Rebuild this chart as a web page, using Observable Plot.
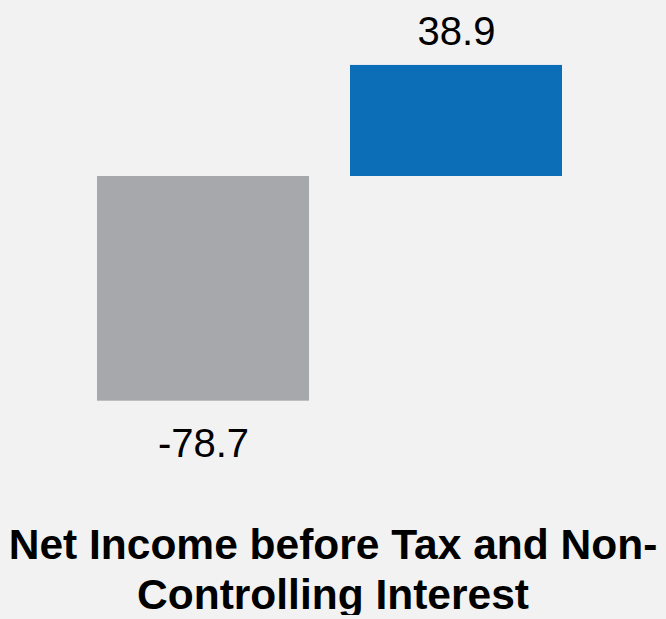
<!DOCTYPE html>
<html>
<head>
<meta charset="utf-8">
<script src="https://cdn.jsdelivr.net/npm/d3@7"></script>
<script src="https://cdn.jsdelivr.net/npm/@observablehq/plot@0.6"></script>
<style>
  html, body { margin: 0; padding: 0; background: #f2f2f2; overflow: hidden; }
  #chart svg { display: block; }
  .title {
    width: 666px;
    text-align: center;
    font-family: "Liberation Sans", Arial, sans-serif;
    font-weight: bold;
    font-size: 42.5px;
    color: #000;
    white-space: nowrap;
  }
  #t1 { line-height: 53px; height: 53px; }
  #t2 { line-height: 40px; height: 40px; margin-top: 4px; }
</style>
</head>
<body>
<div id="chart"></div>
<div class="title" id="t1">Net Income before Tax and Non-</div>
<div class="title" id="t2">Controlling Interest</div>
<script>
const categories = ["Prior Period", "Current Period"];
const values = [-78.7, 38.9];
const labels = ["-78.7", "38.9"];

const data = categories.map((c, i) => ({cat: c, value: values[i], label: labels[i]}));

const chart = Plot.plot({
  width: 666,
  height: 518,
  margin: 0,
  style: {background: "#f2f2f2", fontFamily: "'Liberation Sans', Arial, sans-serif"},
  x: {domain: categories, range: [96, 563], paddingInner: 0.1614, paddingOuter: 0, axis: null},
  y: {domain: [-80, 40], range: [404.4, 61.8], axis: null},
  color: {domain: categories, range: ["#a7a8ab", "#0b6eb6"]},
  marks: [
    Plot.barY(data, {x: "cat", y: "value", fill: "cat"}),
    Plot.text(data.filter(d => d.value >= 0), {x: "cat", y: "value", text: "label", lineAnchor: "bottom", dy: -20, fontSize: 40, fill: "#000"}),
    Plot.text(data.filter(d => d.value < 0), {x: "cat", y: "value", text: "label", lineAnchor: "bottom", dy: 56, fontSize: 40, fill: "#000"})
  ]
});
document.getElementById("chart").appendChild(chart);
</script>
</body>
</html>
